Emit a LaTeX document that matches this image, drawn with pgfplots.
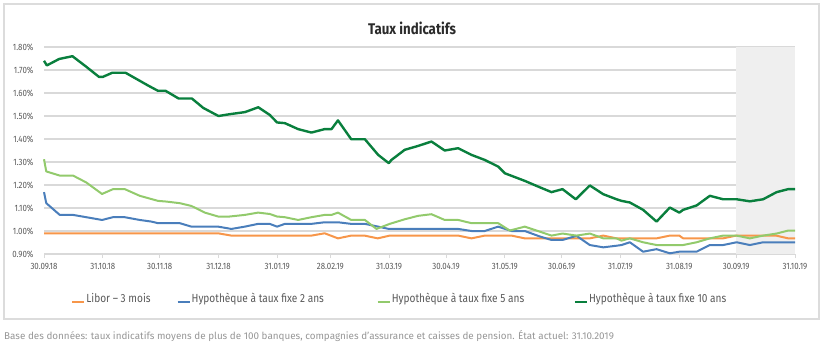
\documentclass[border=0pt]{standalone}
\usepackage{fontspec}
\setmainfont{Fira Sans}[FakeStretch=0.86]
\newfontfamily\footfont{Fira Sans}
\usepackage{pgfplots}
\pgfplotsset{compat=1.18}
\definecolor{libor}{RGB}{247,150,74}
\definecolor{hyp2}{RGB}{74,126,187}
\definecolor{hyp5}{RGB}{146,202,108}
\definecolor{hyp10}{RGB}{9,127,61}
\definecolor{gridc}{RGB}{217,217,217}
\definecolor{tickc}{RGB}{89,89,89}
\definecolor{shadec}{RGB}{239,239,239}
\definecolor{boxc}{RGB}{220,220,220}
\begin{document}
\begin{tikzpicture}[x=1bp,y=1bp]
\draw[boxc, line width=1.2bp] (4,29) rectangle (819,344);
\node[font=\fontsize{15.5}{17}\selectfont\bfseries, text={rgb,255:red,43;green,43;blue,43}] at (412,320) {Taux indicatifs};
\node[anchor=base west, font=\footfont\fontsize{9.9}{11}\selectfont, text={rgb,255:red,150;green,150;blue,150}, inner sep=0] at (4,9) {Base des données: taux indicatifs moyens de plus de 100 banques, compagnies d’assurance et caisses de pension. État actuel: 31.10.2019};
\begin{axis}[
  set layers,
  at={(44bp,94bp)}, anchor=south west,
  scale only axis, width=751bp, height=207bp,
  xmin=0, xmax=396, ymin=0.9, ymax=1.8,
  axis lines*=left,
  y axis line style={draw=none},
  x axis line style={draw=gridc, line width=1.2bp},
  ytick={0.9,1.0,1.1,1.2,1.3,1.4,1.5,1.6,1.7,1.8},
  yticklabels={0.90\%,1.00\%,1.10\%,1.20\%,1.30\%,1.40\%,1.50\%,1.60\%,1.70\%,1.80\%},
  ytick style={draw=none},
  xtick={0,31,61,92,123,151,182,212,243,273,304,335,365,396},
  xticklabels={30.09.18,31.10.18,30.11.18,31.12.18,31.01.19,28.02.19,31.03.19,30.04.19,31.05.19,30.06.19,31.07.19,31.08.19,30.09.19,31.10.19},
  xtick align=outside,
  x tick style={draw=gridc, line width=1bp},
  major tick length=4bp,
  ymajorgrids, grid style={draw=gridc, line width=1.2bp},
  ticklabel style={font=\fontsize{9.2}{10}\selectfont, text=tickc},
  yticklabel style={xshift=-7bp},
  xticklabel style={yshift=-1.5bp},
  clip=false,
  legend columns=4,
  legend style={at={(axis description cs:0.036,-0.215)}, anchor=west, draw=none, fill=none,
    font=\fontsize{11.8}{13}\selectfont, text=tickc, column sep=0pt, inner sep=0pt,
    nodes={inner sep=1bp}},
  legend image code/.code={\draw[#1, line width=2.2bp] (0bp,-3.5bp) -- (12bp,-3.5bp);},
  every axis plot/.append style={line join=round},
]
\fill[shadec, on layer=axis background] (axis cs:365,0.9) rectangle (axis cs:396,1.8);
\addplot[libor, line width=2bp] coordinates {
(0,0.99)(91.8,0.99)(98.8,0.98)(141,0.98)(148,0.99)(155,0.968)(162,0.98)(169,0.98)(176,0.968)(182.3,0.98)(218.4,0.98)(225.4,0.968)(232.4,0.98)(246.5,0.98)(253.5,0.968)(287.8,0.968)(294.9,0.98)(301.9,0.968)(323,0.968)(330,0.98)(335,0.98)(337,0.968)(358,0.968)(365,0.98)(386,0.98)(392.4,0.968)(396,0.968)};
\addlegendentry{\makebox[89bp][l]{Libor -- 3 mois}}
\addplot[hyp2, line width=2bp] coordinates {
(0,1.169)(1.2,1.121)(8.3,1.070)(15.3,1.070)(22.3,1.060)(30.6,1.048)(36.4,1.060)(42.6,1.060)(50.5,1.048)(56.6,1.041)(60.1,1.034)(71.6,1.034)(77.7,1.019)(91.8,1.019)(98.8,1.009)(105.9,1.019)(112.9,1.031)(119,1.031)(122.9,1.019)(127,1.031)(141,1.031)(148,1.038)(155,1.038)(162,1.031)(169.2,1.031)(176.2,1.019)(181.8,1.009)(190.2,1.009)(218.4,1.009)(225.4,1.0)(232.4,1.0)(239.5,1.019)(246.5,1.0)(253.5,1.0)(261.5,0.976)(267.6,0.961)(273.4,0.961)(280.8,0.979)(287.8,0.939)(294.9,0.929)(301.9,0.936)(304.5,0.939)(308.9,0.951)(315.9,0.910)(323,0.921)(330,0.903)(335,0.910)(344.1,0.910)(351.1,0.939)(358.1,0.939)(365.2,0.951)(372.2,0.939)(379.2,0.951)(396,0.951)};
\addlegendentry{\makebox[184bp][l]{Hypothèque à taux fixe 2 ans}}
\addplot[hyp5, line width=2bp] coordinates {
(0,1.312)(1.2,1.259)(8.3,1.241)(15.3,1.241)(22.3,1.211)(30.6,1.161)(36.4,1.182)(42.6,1.182)(50.5,1.153)(60.1,1.131)(64.5,1.128)(71.6,1.121)(77.7,1.109)(84.8,1.080)(91.8,1.063)(97.9,1.063)(105.9,1.070)(112.9,1.080)(119,1.074)(122.9,1.063)(127,1.060)(134,1.048)(141,1.060)(148,1.070)(151.6,1.070)(155,1.080)(162,1.048)(169.2,1.048)(175.3,1.009)(182.3,1.031)(190.2,1.051)(197.3,1.066)(204.3,1.073)(211.3,1.048)(218.4,1.048)(225.4,1.034)(239.5,1.034)(245.6,1.002)(253.5,1.019)(261.5,0.997)(267.6,0.980)(273.4,0.989)(280.8,0.980)(287.8,0.989)(294.9,0.968)(301.9,0.968)(304.5,0.958)(308.9,0.968)(315.9,0.951)(323,0.939)(337,0.939)(344.1,0.951)(351.1,0.968)(358.1,0.980)(365.2,0.980)(372.2,0.968)(379.2,0.980)(386.3,0.989)(392.4,1.002)(396,1.002)};
\addlegendentry{\makebox[181bp][l]{Hypothèque à taux fixe 5 ans}}
\addplot[hyp10, line width=2.4bp] coordinates {
(0,1.74)(1.5,1.72)(8,1.748)(15,1.76)(22,1.716)(29,1.67)(31,1.67)(36,1.688)(43,1.688)(49,1.66)(55,1.632)(60,1.61)(64,1.61)(71,1.576)(78,1.576)(84,1.535)(92,1.50)(98,1.508)(106,1.517)(113,1.538)(119,1.505)(122.9,1.472)(127,1.469)(134,1.443)(141,1.428)(148,1.443)(151.6,1.443)(155,1.481)(162,1.399)(169.2,1.399)(176.2,1.331)(181.8,1.295)(183.2,1.309)(190.2,1.353)(197.3,1.370)(204.3,1.389)(211.3,1.350)(218.4,1.360)(225.4,1.331)(232.4,1.309)(239.5,1.280)(243,1.251)(246.5,1.240)(253.5,1.218)(260.6,1.193)(267.6,1.169)(273.4,1.182)(280.4,1.138)(287.8,1.198)(294.9,1.160)(301.9,1.138)(304.5,1.131)(308.9,1.124)(315.9,1.092)(323,1.041)(330,1.102)(335,1.080)(337,1.092)(344.1,1.111)(351.1,1.153)(358.1,1.138)(365.2,1.138)(372.2,1.129)(379.2,1.138)(386.3,1.169)(392.4,1.182)(396,1.182)};
\addlegendentry{Hypothèque à taux fixe 10 ans}
\end{axis}
\pgfresetboundingbox
\useasboundingbox (0,0) rectangle (826,348);
\end{tikzpicture}
\end{document}
